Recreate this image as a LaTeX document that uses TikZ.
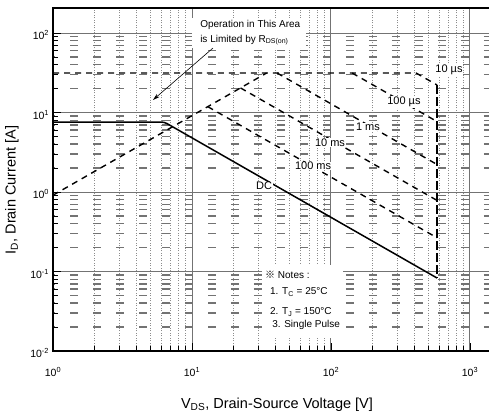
\documentclass[tikz,border=0pt]{standalone}
\usepackage{fontspec}
\setmainfont{Liberation Sans}
\newfontfamily\cjkfont{Noto Sans CJK SC}
\usetikzlibrary{arrows.meta}

\tikzset{
  majorgrid/.style={black!55, line width=1pt},
  vminor/.style={black!45, line width=0.7pt, dash pattern=on 1pt off 1.5pt},
  hminor/.style={black!55, line width=1.4pt, dash pattern=on 8pt off 15pt, dash phase=6pt},
  limit/.style={black, line width=1.4pt, dash pattern=on 6pt off 5pt},
  dcline/.style={black, line width=1.5pt},
  curvelabel/.style={fill=white, inner sep=0.6pt, font=\fontsize{11}{12}\selectfont},
  ticklabel/.style={font=\fontsize{10.5}{11}\selectfont, inner sep=1pt},
  notetext/.style={anchor=west, inner sep=0pt, font=\fontsize{10}{12}\selectfont},
}

\begin{document}
\begin{tikzpicture}[x=139pt, y=79.5pt]
  \useasboundingbox (-0.3813,-2.7925) rectangle (3.1367,2.4151);
  \clip (-0.3813,-2.7925) rectangle (3.1367,2.4151);

  % minor grid
  \foreach \d in {0,1,2}
    \foreach \m in {2,...,9}
      \draw[vminor] ({\d+log10(\m)},-2) -- ({\d+log10(\m)},2.3145);
  \foreach \d in {-2,-1,0,1}
    \foreach \m in {2,...,9}
      \draw[hminor] (0,{\d+log10(\m)}) -- (3.2,{\d+log10(\m)});
  % major grid
  \foreach \d in {1,2,3}
    \draw[majorgrid] (\d,-2) -- (\d,2.3145);
  \foreach \d in {-1,0,1,2}
    \draw[majorgrid] (0,\d) -- (3.2,\d);

  % white boxes behind the notes
  \fill[white] (1.0,1.811) rectangle (1.82,2.189);
  \fill[white] (1.504,-1.836) rectangle (2.086,-0.918);

  % limit lines
  \coordinate (rdsstart) at (0,-0.04);
  \coordinate (idm) at (1.537,1.497);
  \coordinate (usten) at (2.612,1.497);
  \coordinate (vtop) at (2.763,1.346);
  \coordinate (vbot) at (2.763,-1.082);
  \coordinate (knee) at (0.801,0.88);
  \draw[limit] (rdsstart) -- (idm);
  \draw[limit] (0,1.497) -- (usten) -- (vtop);
  \draw[limit] (2.152,1.497) -- (2.763,0.886);
  \draw[limit] (1.612,1.497) -- (2.763,0.346);
  \draw[limit] (1.349,1.309) -- (2.763,-0.106);
  \draw[limit] (1.1135,1.0735) -- (2.763,-0.576);
  \draw[limit, dash pattern=on 9pt off 3pt] (vtop) -- (vbot);
  \draw[dcline, rounded corners=3pt] (0,0.88) -- (knee) -- (vbot);

  % curve labels
  \node[curvelabel] (l10us) at (2.849,1.535) {10 µs};
  \node[curvelabel] (l100us) at (2.525,1.132) {100 µs};
  \node[curvelabel] (l1ms) at (2.266,0.818) {1 ms};
  \node[curvelabel] (l10ms) at (1.993,0.617) {10 ms};
  \node[curvelabel] (l100ms) at (1.871,0.327) {100 ms};
  \node[curvelabel] (ldc) at (1.518,0.075) {DC};

  % R_DS(on) note and arrow
  \node[anchor=west, align=left, inner sep=0pt, font=\fontsize{10}{15}\selectfont] (rdsnote) at (1.058,2.006)
    {Operation in This Area\\is Limited by R\textsubscript{DS(on)}};
  \coordinate (arrowtail) at (1.151,1.811);
  \coordinate (arrowhead) at (0.719,1.157);
  \draw[-{Stealth[length=7pt,width=4pt]}, line width=0.6pt] (arrowtail) -- (arrowhead);

  % notes
  \node[notetext] (nhead) at (1.525,-1.044) {{\cjkfont ※} Notes :};
  \node[notetext] (n1) at (1.561,-1.258) {1. T\textsubscript{C} = 25°C};
  \node[notetext] (n2) at (1.561,-1.509) {2. T\textsubscript{J} = 150°C};
  \node[notetext] (n3) at (1.576,-1.673) {3. Single Pulse};

  % axis ticks
  \foreach \d in {-2,-1,0,1}
    \foreach \m in {2,...,9}
      \draw[line width=0.8pt] (0,{\d+log10(\m)}) -- (0.036,{\d+log10(\m)});
  \foreach \d in {-1,0,1,2}
    \draw[line width=0.8pt] (0,\d) -- (0.058,\d);
  \foreach \d in {0,1,2}
    \foreach \m in {2,...,9}
      \draw[line width=0.8pt] ({\d+log10(\m)},-2) -- ({\d+log10(\m)},-1.937);
  \foreach \d in {1,2,3}
    \draw[line width=0.8pt] (\d,-2) -- (\d,-1.9);

  % frame
  \draw[line width=2pt] (3.2,2.3145) -- (0,2.3145) -- (0,-2) -- (3.2,-2);

  % tick labels
  \foreach \d in {0,1,2,3}
    \node[ticklabel] (xt\d) at (\d,-2.264) {10\textsuperscript{\d}};
  \foreach \d in {-2,-1,0,1,2}
    \node[ticklabel, anchor=east] (yt\d) at (-0.02,\d-0.03) {10\textsuperscript{\d}};

  % axis titles
  \node[font=\fontsize{14.5}{15}\selectfont] (xtitle) at (1.6115,-2.679)
    {V\textsubscript{DS}, Drain-Source Voltage [V]};
  \node[rotate=90, font=\fontsize{14.5}{15}\selectfont] (ytitle) at (-0.295,0.025)
    {I\textsubscript{D}, Drain Current [A]};
\end{tikzpicture}
\end{document}
